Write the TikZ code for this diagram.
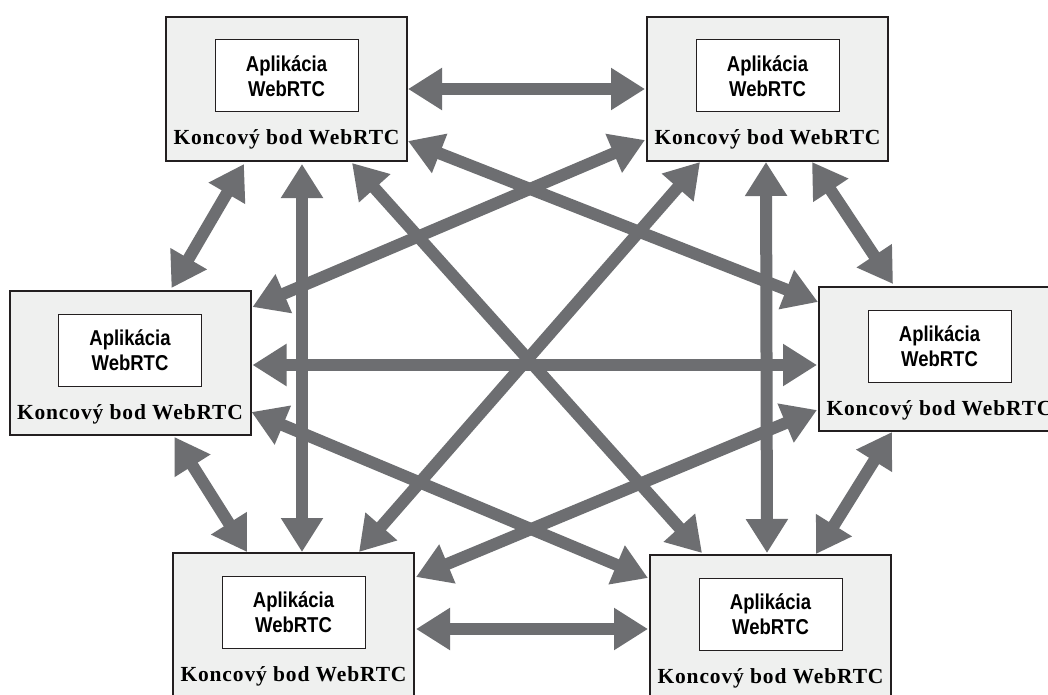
\documentclass[tikz,border=0pt]{standalone}
\usepackage{fontspec}
\setmainfont{Liberation Serif}
\newfontfamily\appfont[FakeStretch=0.86]{Liberation Sans}
\newfontfamily\endfont[LetterSpace=4]{Liberation Serif}
\usetikzlibrary{arrows.meta,calc}
\definecolor{linkgray}{HTML}{6D6E71}
\definecolor{boxgray}{HTML}{EFF0EF}
\definecolor{edgeink}{HTML}{231F20}
\tikzset{
  endpoint/.style={draw=edgeink, line width=2pt, fill=boxgray,
    minimum width=241pt, minimum height=144pt, inner sep=0pt, outer sep=0pt},
  appbox/.style={draw=edgeink, line width=1pt, fill=white,
    minimum width=143pt, minimum height=72pt, inner sep=0pt, align=center,
    font=\appfont\bfseries\fontsize{21.5}{24.5}\selectfont},
  endlabel/.style={anchor=base, inner sep=0pt,
    font=\endfont\bfseries\fontsize{21.5}{24}\selectfont},
  link/.style={draw=linkgray, line width=12pt,
    {Triangle[length=34pt,width=40pt]}-{Triangle[length=34pt,width=40pt]}}
}
% one WebRTC endpoint: outer box, application box and caption
\newcommand{\rtcendpoint}[2]{%
  \node[endpoint] (#1) at (#2) {};
  \node[appbox] (#1-app) at ($(#1.north)+(0,59)$) {Aplikácia\\WebRTC};
  \node[endlabel] (#1-lbl) at ($(#1.north)+(0,128)$) {Koncový bod WebRTC};
}
\begin{document}
\begin{tikzpicture}[x=1pt,y=-1pt]
  \clip (0,0) rectangle (1048,695);
  \fill[white] (0,0) rectangle (1048,695);

  \rtcendpoint{tl}{286.5,89}
  \rtcendpoint{tr}{767.5,89}
  \rtcendpoint{ml}{130,363}
  \rtcendpoint{mr}{939.5,359}
  \rtcendpoint{bl}{293.5,625}
  \rtcendpoint{br}{770.5,627}

  % horizontal links
  \draw[link] ($(tl.east)+(1,0)$) -- ($(tr.west)+(-2,0)$);
  \draw[link] ($(ml.east)+(2,2)$) -- ($(mr.west)+(-2,6)$);
  \draw[link] ($(bl.east)+(2,4)$) -- ($(br.west)+(-2,2)$);

  % outer ring links
  \draw[link] ($(tl.south west)+(78,3)$) -- ($(ml.north west)+(162,-3)$);
  \draw[link] ($(tr.south west)+(165,1)$) -- ($(mr.north west)+(74,-3)$);
  \draw[link] ($(ml.south west)+(165,2)$) -- ($(bl.north west)+(74,-1)$);
  \draw[link] ($(mr.south west)+(73,1)$) -- ($(br.north west)+(166,-1)$);

  % vertical links
  \draw[link] ($(tl.south west)+(136,3)$) -- ($(bl.north west)+(129,-1)$);
  \draw[link] ($(tr.south west)+(119,1)$) -- ($(br.north west)+(117,-2)$);

  % long diagonals
  \draw[link] ($(tl.south west)+(186,2)$) -- ($(br.north west)+(52,-2)$);
  \draw[link] ($(tr.south west)+(53,1)$) -- ($(bl.north west)+(186,-1)$);

  % shallow diagonals
  \draw[link] ($(tl.south east)+(1,-20)$) -- ($(mr.north west)+(-1,15)$);
  \draw[link] ($(tr.south west)+(-2,-21)$) -- ($(ml.north east)+(2,16)$);
  \draw[link] ($(ml.south east)+(1,-23)$) -- ($(br.north west)+(-2,23)$);
  \draw[link] ($(mr.south west)+(-2,-21)$) -- ($(bl.north east)+(2,24)$);
\end{tikzpicture}
\end{document}
